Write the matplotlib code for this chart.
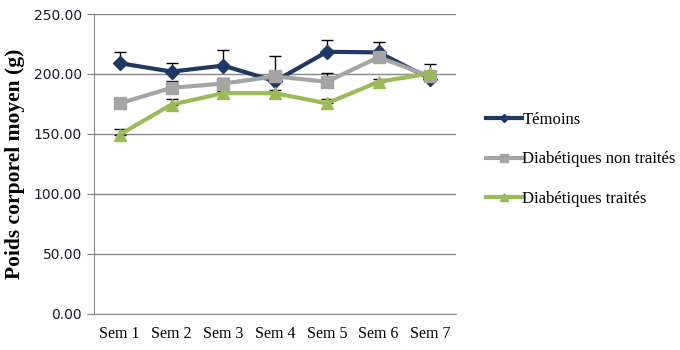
import matplotlib
matplotlib.use("Agg")
import matplotlib.pyplot as plt
import numpy as np

weeks = ["Sem 1", "Sem 2", "Sem 3", "Sem 4", "Sem 5", "Sem 6", "Sem 7"]

temoins = [209, 202, 207, 194, 218.5, 218, 196]
temoins_err = [9, 7, 13, 21, 9.5, 9, 12]

non_traites = [175.5, 188.5, 192, 198, 193.5, 214, 198]
non_traites_err = [1, 5.5, 5, 4, 7, 2, 1]

traites = [149.5, 174.5, 184, 184, 175.5, 193.5, 200.5]
traites_err = [5, 4.5, 2, 2.5, 4, 2.5, 1]

series = [
    ("Témoins", temoins, temoins_err, "#1f3864", "D", 7),
    ("Diabétiques non traités", non_traites, non_traites_err, "#a5a5a5", "s", 9),
    ("Diabétiques traités", traites, traites_err, "#9bbb59", "^", 9),
]

fig = plt.figure(figsize=(6.8, 3.5), dpi=100)
ax = fig.add_axes([0.138, 0.103, 0.533, 0.857])

x = np.arange(len(weeks))
for label, vals, err, color, marker, ms in series:
    ax.errorbar(x, vals, yerr=[np.zeros(len(err)), err], fmt="none",
                ecolor="black", elinewidth=1, capsize=4, capthick=1, zorder=2)
    ax.plot(x, vals, color=color, lw=3, marker=marker, ms=ms,
            label=label, zorder=3)

ax.set_xlim(-0.5, len(weeks) - 0.5)
ax.set_ylim(0, 250)
ax.set_yticks(np.arange(0, 251, 50))
ax.set_yticklabels(["%.2f" % v for v in np.arange(0, 251, 50)],
                   fontsize=10, family="DejaVu Sans", color="#1a1a2e")
ax.set_xticks(x)
ax.set_xticklabels(weeks, fontsize=11.5, family="Liberation Serif")
ax.tick_params(axis="x", length=0, pad=9)
ax.tick_params(axis="y", length=5, color="#808080", direction="out")
ax.yaxis.grid(True, color="#888888", lw=1)
ax.set_axisbelow(True)
for s in ["top", "right"]:
    ax.spines[s].set_visible(False)
for s in ["left", "bottom"]:
    ax.spines[s].set_color("#888888")

ax.set_ylabel("Poids corporel moyen (g)", fontsize=15.5, fontweight="bold",
              family="Liberation Serif", labelpad=6)

ax.legend(loc="center left", bbox_to_anchor=(1.04, 0.515), frameon=False,
          prop={"family": "Liberation Serif", "size": 12},
          handlelength=2.2, handletextpad=0.0, labelspacing=1.4, markerscale=0.6)

fig.savefig("out.png", dpi=100)
